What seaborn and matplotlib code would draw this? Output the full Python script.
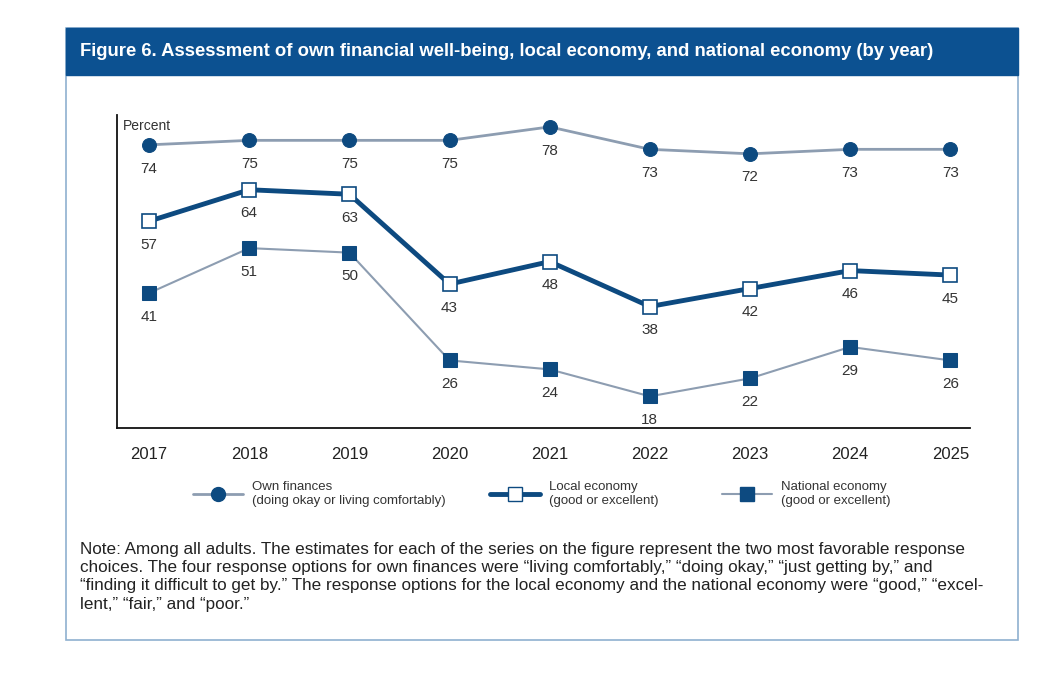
import numpy as np
import pandas as pd
import seaborn as sns
import matplotlib.pyplot as plt
from matplotlib.lines import Line2D
from matplotlib.patches import Rectangle

# data
years = [2017, 2018, 2019, 2020, 2021, 2022, 2023, 2024, 2025]
own_finances = [74, 75, 75, 75, 78, 73, 72, 73, 73]
local_economy = [57, 64, 63, 43, 48, 38, 42, 46, 45]
national_economy = [41, 51, 50, 26, 24, 18, 22, 29, 26]

series_names = ["Own finances\n(doing okay or living comfortably)",
                "Local economy\n(good or excellent)",
                "National economy\n(good or excellent)"]

DARK = "#0d4a80"
LIGHT = "#8d9db1"
TITLE_BG = "#0c5191"
FRAME = "#8fb0cf"

sns.set_style("white")
plt.rcParams["font.family"] = ["Liberation Sans", "DejaVu Sans"]

df = pd.DataFrame({"year": years, "own": own_finances,
                   "local": local_economy, "national": national_economy})

fig = plt.figure(figsize=(10.64, 6.79), dpi=100)
ax = fig.add_axes([0.110, 0.370, 0.802, 0.461])

# frame and title bar
fig.patches.append(Rectangle((66/1064, 1-640/679), 952/1064, 612/679,
                             transform=fig.transFigure, fill=False,
                             edgecolor=FRAME, lw=1.2, zorder=0))
fig.patches.append(Rectangle((66/1064, 1-75/679), 952/1064, 47/679,
                             transform=fig.transFigure, facecolor=TITLE_BG,
                             edgecolor=TITLE_BG, zorder=1))
fig.text(80/1064, 1-51/679,
         "Figure 6. Assessment of own financial well-being, local economy, and national economy (by year)",
         color="white", fontsize=13.3, fontweight="bold", va="center", ha="left")

sns.lineplot(data=df, x="year", y="own", ax=ax, color=LIGHT, lw=2,
             marker="o", markersize=10, markerfacecolor=DARK,
             markeredgecolor=DARK)
sns.lineplot(data=df, x="year", y="local", ax=ax, color=DARK, lw=3.5,
             marker="s", markersize=9.5, markerfacecolor="white",
             markeredgecolor=DARK, markeredgewidth=1.2)
sns.lineplot(data=df, x="year", y="national", ax=ax, color=LIGHT, lw=1.5,
             marker="s", markersize=9.5, markerfacecolor=DARK,
             markeredgecolor=DARK)

for col in ["own", "local", "national"]:
    for x, y in zip(df["year"], df[col]):
        ax.annotate(str(y), (x, y), xytext=(0, -12), textcoords="offset points",
                    ha="center", va="top", fontsize=11, color="#333333")

ax.set_xlim(2016.68, 2025.2)
ax.set_ylim(11, 80.7)
ax.set_xticks(years)
ax.set_xticklabels([str(y) for y in years], fontsize=12, color="#222222")
ax.set_yticks([])
ax.set_xlabel("")
ax.set_ylabel("")
ax.tick_params(axis="x", length=0, pad=14)
sns.despine(ax=ax, top=True, right=True)
for s in ["left", "bottom"]:
    ax.spines[s].set_color("#111111")
    ax.spines[s].set_linewidth(1.3)
ax.text(0.007, 0.985, "Percent", transform=ax.transAxes, fontsize=10,
        color="#333333", ha="left", va="top")

handles = [
    Line2D([], [], color=LIGHT, lw=2, marker="o", markersize=10,
           markerfacecolor=DARK, markeredgecolor=DARK),
    Line2D([], [], color=DARK, lw=3.5, marker="s", markersize=9.5,
           markerfacecolor="white", markeredgecolor=DARK),
    Line2D([], [], color=LIGHT, lw=1.5, marker="s", markersize=9.5,
           markerfacecolor=DARK, markeredgecolor=DARK),
]
legend_x = [193, 490, 722]
for h, name, lx in zip(handles, series_names, legend_x):
    fig.legend([h], [name], loc="center left",
               bbox_to_anchor=(lx/1064, 1-494/679), frameon=False,
               fontsize=9.5, handlelength=3.8, handletextpad=0.7,
               borderpad=0, borderaxespad=0, labelcolor="#333333")

note = ("Note: Among all adults. The estimates for each of the series on the figure represent the two most favorable response\n"
        "choices. The four response options for own finances were \u201cliving comfortably,\u201d \u201cdoing okay,\u201d \u201cjust getting by,\u201d and\n"
        "\u201cfinding it difficult to get by.\u201d The response options for the local economy and the national economy were \u201cgood,\u201d \u201cexcel-\n"
        "lent,\u201d \u201cfair,\u201d and \u201cpoor.\u201d")
fig.text(80/1064, 1-542/679, note, fontsize=12.3, color="#222222",
         ha="left", va="top", linespacing=1.27)

fig.savefig("out.png", dpi=100)
